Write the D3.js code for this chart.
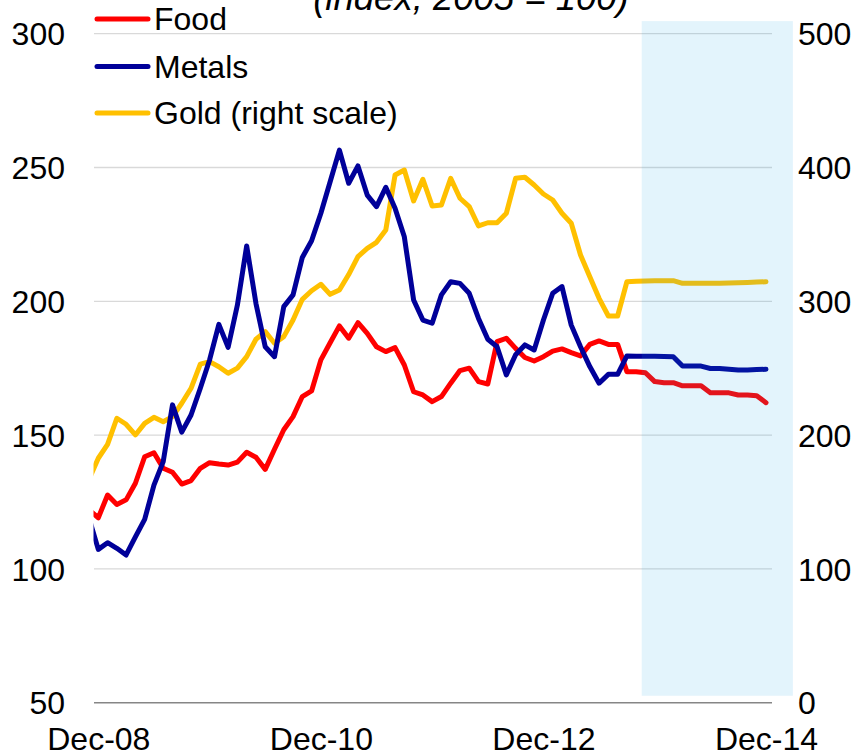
<!DOCTYPE html>
<html>
<head>
<meta charset="utf-8">
<script src="https://cdn.jsdelivr.net/npm/d3@7"></script>
<style>
  html, body { margin: 0; padding: 0; background: #fff; }
  svg { display: block; font-family: "Liberation Sans", Arial, sans-serif; }
</style>
</head>
<body>
<svg id="chart" width="853" height="754"></svg>
<script>
// Month index: -1 = Nov-08, 0 = Dec-08 ... 72 = Dec-14
const startIndex = -1;
const xTickIndex = [0, 24, 48, 72];
const xTickLabels = ["Dec-08", "Dec-10", "Dec-12", "Dec-14"];
const leftTicks = [50, 100, 150, 200, 250, 300];
const rightTicks = [0, 100, 200, 300, 400, 500];
const seriesNames = ["Food", "Metals", "Gold (right scale)"];
const seriesColors = ["#FF0000", "#000099", "#FFC000"];
const titleText = "(index, 2005 = 100)";

const food = [122, 119.1, 127.6, 124.1, 125.8, 132.0, 141.9, 143.4, 137.6, 136.1, 131.7, 133.0, 137.6, 139.7, 139.2, 138.8, 139.9, 143.6, 141.7, 137.2, 144.7, 152.0, 156.9, 164.4, 166.5, 178.1, 184.5, 190.8, 186.2, 192.0, 188.0, 183.0, 181.2, 182.7, 176.2, 166.2, 165.0, 162.5, 164.4, 169.4, 174.1, 175.0, 170.0, 169.1, 184.9, 186.2, 182.4, 179.0, 177.7, 179.3, 181.4, 182.2, 180.8, 179.6, 183.9, 185.2, 183.9, 183.9, 173.7, 173.7, 173.3, 170.0, 169.6, 169.6, 168.4, 168.4, 168.4, 165.8, 165.8, 165.8, 165.0, 165.0, 164.7, 162.1];

const metals = [119, 107.3, 109.8, 107.7, 105.2, 112.0, 118.5, 131.3, 140.1, 161.3, 151.1, 157.5, 167.5, 178.1, 191.4, 182.8, 198.6, 220.7, 199.2, 183.0, 179.3, 198.0, 202.4, 216.4, 222.6, 232.9, 244.7, 256.5, 244.1, 250.6, 239.7, 235.4, 242.6, 234.8, 224.1, 200.5, 193.0, 191.8, 202.4, 207.3, 206.7, 203.0, 193.6, 185.8, 183.0, 172.5, 180.0, 183.7, 181.8, 193.0, 203.0, 205.5, 191.1, 183.0, 175.6, 169.4, 172.7, 172.7, 179.6, 179.5, 179.5, 179.5, 179.4, 179.3, 175.8, 175.8, 175.8, 174.9, 174.9, 174.6, 174.3, 174.3, 174.5, 174.6];

const gold = [167, 182.7, 193.1, 212.6, 208.1, 200.1, 208.8, 213.3, 210.0, 213.8, 223.8, 235.0, 253.1, 254.9, 251.1, 246.2, 250.1, 258.6, 271.6, 277.3, 268.6, 273.6, 286.0, 301.5, 307.9, 312.7, 305.2, 308.4, 320.0, 333.4, 339.6, 344.1, 353.3, 394.4, 398.1, 375.0, 391.2, 371.2, 372.0, 391.9, 377.0, 370.7, 356.3, 358.7, 358.7, 365.8, 391.9, 392.7, 386.9, 380.2, 375.7, 365.8, 358.3, 334.6, 318.4, 302.2, 289.0, 289.0, 314.6, 315.0, 315.2, 315.4, 315.4, 315.4, 313.4, 313.4, 313.4, 313.4, 313.4, 313.6, 313.9, 314.1, 314.4, 314.6];

// Projection shading (month index range, left-scale value range)
const shadeX = [58.6, 74.9];
const shadeY = [52.6, 304.7];

// ---------------- layout ----------------
const svg = d3.select("#chart");
const plotLeft = 94, plotRight = 772, plotTop = 33.7, plotBottom = 702.7;

const x = d3.scaleLinear().domain([0, 72]).range([98.3, 766]);
const yL = d3.scaleLinear().domain([50, 300]).range([plotBottom, plotTop]);
const yR = d3.scaleLinear().domain([0, 500]).range([plotBottom, plotTop]);

svg.append("defs").append("clipPath").attr("id", "plotclip")
  .append("rect").attr("x", plotLeft - 0.5).attr("y", 0)
  .attr("width", plotRight - plotLeft + 1).attr("height", 754);

// title (partly cut off at top)
svg.append("text")
  .attr("x", 471).attr("y", 10)
  .attr("text-anchor", "middle")
  .attr("font-size", 36.5).attr("font-style", "italic")
  .attr("fill", "#000")
  .text(titleText);

// gridlines
svg.append("g").selectAll("line")
  .data(leftTicks.filter(d => d !== 50))
  .join("line")
  .attr("x1", plotLeft).attr("x2", plotRight)
  .attr("y1", d => yL(d)).attr("y2", d => yL(d))
  .attr("stroke", "#D9D9D9").attr("stroke-width", 1.3);

// bottom axis line
svg.append("line")
  .attr("x1", plotLeft).attr("x2", plotRight)
  .attr("y1", yL(50)).attr("y2", yL(50))
  .attr("stroke", "#868686").attr("stroke-width", 1.6);

// left axis labels
const leftAxis = d3.axisLeft(yL).tickValues(leftTicks).tickSize(0).tickPadding(0);
const gl = svg.append("g").attr("transform", "translate(65,0)").call(leftAxis);
gl.select(".domain").remove();
gl.selectAll("text").attr("font-size", 32).attr("font-family", "Liberation Sans, Arial, sans-serif").attr("fill", "#000").attr("dy", "0.35em");

// right axis labels
const rightAxis = d3.axisRight(yR).tickValues(rightTicks).tickSize(0).tickPadding(0);
const gr = svg.append("g").attr("transform", "translate(798,0)").call(rightAxis);
gr.select(".domain").remove();
gr.selectAll("text").attr("font-size", 32).attr("font-family", "Liberation Sans, Arial, sans-serif").attr("fill", "#000").attr("dy", "0.35em");

// x labels
const bottomAxis = d3.axisBottom(x).tickValues(xTickIndex)
  .tickFormat((d, i) => xTickLabels[i]).tickSize(0).tickPadding(0);
const gb = svg.append("g").attr("transform", "translate(0,727)").call(bottomAxis);
gb.select(".domain").remove();
gb.selectAll("text").attr("font-size", 32).attr("font-family", "Liberation Sans, Arial, sans-serif").attr("fill", "#000").attr("dy", "0.71em");

// lines
const idx = d => d;
const lineL = d3.line().x((d, i) => x(startIndex + i)).y(d => yL(d));
const lineR = d3.line().x((d, i) => x(startIndex + i)).y(d => yR(d));

const gLines = svg.append("g").attr("clip-path", "url(#plotclip)");
gLines.append("path").datum(gold).attr("d", lineR)
  .attr("fill", "none").attr("stroke", seriesColors[2]).attr("stroke-width", 5)
  .attr("stroke-linejoin", "round").attr("stroke-linecap", "round");
gLines.append("path").datum(food).attr("d", lineL)
  .attr("fill", "none").attr("stroke", seriesColors[0]).attr("stroke-width", 5)
  .attr("stroke-linejoin", "round").attr("stroke-linecap", "round");
gLines.append("path").datum(metals).attr("d", lineL)
  .attr("fill", "none").attr("stroke", seriesColors[1]).attr("stroke-width", 5)
  .attr("stroke-linejoin", "round").attr("stroke-linecap", "round");

// projection shading (drawn over lines, translucent)
svg.append("rect")
  .attr("x", x(shadeX[0])).attr("width", x(shadeX[1]) - x(shadeX[0]))
  .attr("y", yL(shadeY[1])).attr("height", yL(shadeY[0]) - yL(shadeY[1]))
  .attr("fill", "rgb(22,163,230)").attr("fill-opacity", 0.12);

// legend
const legendY = [19, 66.5, 113];
const lg = svg.append("g");
seriesNames.forEach((name, i) => {
  lg.append("line")
    .attr("x1", 97).attr("x2", 148)
    .attr("y1", legendY[i]).attr("y2", legendY[i])
    .attr("stroke", seriesColors[i]).attr("stroke-width", 5)
    .attr("stroke-linecap", "round");
  lg.append("text")
    .attr("x", 154).attr("y", legendY[i]).attr("dy", "0.35em")
    .attr("font-size", 32).attr("fill", "#000")
    .text(name);
});
</script>
</body>
</html>
